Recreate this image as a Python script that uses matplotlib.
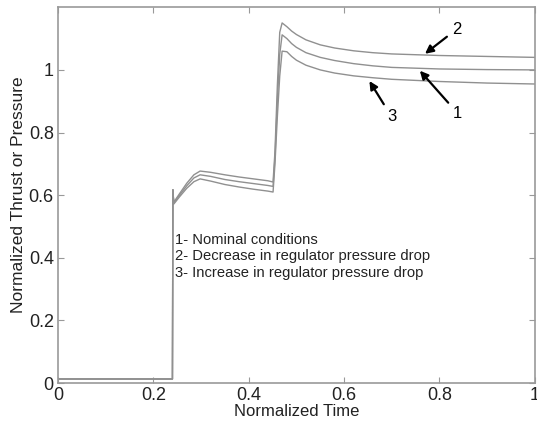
import matplotlib
matplotlib.use("Agg")
import matplotlib.pyplot as plt

plt.rcParams['font.family'] = ['Liberation Sans', 'DejaVu Sans']

# data
t = [0.0, 0.240, 0.241, 0.2415, 0.243, 0.255, 0.270, 0.285, 0.298, 0.32, 0.35,
     0.38, 0.41, 0.44, 0.451, 0.455, 0.460, 0.465, 0.470, 0.48, 0.49, 0.50, 0.52,
     0.55, 0.58, 0.62, 0.66, 0.70, 0.80, 0.90, 1.0]

y_nominal = [0.013, 0.013, 0.617, 0.60, 0.575, 0.60, 0.630, 0.655, 0.665, 0.660, 0.650,
             0.643, 0.637, 0.631, 0.628, 0.72, 0.90, 1.05, 1.112, 1.100, 1.084, 1.072, 1.055,
             1.040, 1.030, 1.020, 1.013, 1.008, 1.003, 1.001, 1.0]
y_decrease = [0.013, 0.013, 0.617, 0.60, 0.578, 0.605, 0.638, 0.665, 0.677, 0.673, 0.665,
              0.658, 0.652, 0.646, 0.642, 0.74, 0.95, 1.12, 1.150, 1.138, 1.124, 1.113, 1.096,
              1.080, 1.070, 1.061, 1.055, 1.051, 1.046, 1.043, 1.040]
y_increase = [0.013, 0.013, 0.617, 0.60, 0.572, 0.595, 0.622, 0.643, 0.652, 0.645, 0.634,
              0.626, 0.619, 0.613, 0.610, 0.70, 0.85, 0.98, 1.060, 1.058, 1.043, 1.031, 1.015,
              1.000, 0.990, 0.981, 0.975, 0.970, 0.963, 0.958, 0.955]

legend_lines = ["1- Nominal conditions",
                "2- Decrease in regulator pressure drop",
                "3- Increase in regulator pressure drop"]

fig = plt.figure(figsize=(5.37, 4.28), dpi=100)
ax = fig.add_axes([0.108, 0.105, 0.888, 0.878])

for y in [y_nominal, y_decrease, y_increase]:
    ax.plot(t, y, color='#909090', linewidth=1.0)

ax.set_xlim(0, 1)
ax.set_ylim(0, 1.2)
ax.set_xticks([0, 0.2, 0.4, 0.6, 0.8, 1])
ax.set_xticklabels(['0', '0.2', '0.4', '0.6', '0.8', '1'])
ax.set_yticks([0, 0.2, 0.4, 0.6, 0.8, 1])
ax.set_yticklabels(['0', '0.2', '0.4', '0.6', '0.8', '1'])
ax.tick_params(direction='in', top=True, right=True, length=4, color='#999999',
               labelsize=13, labelcolor='#222222', pad=3)
for s in ax.spines.values():
    s.set_color('#999999')
    s.set_linewidth(1.2)

ax.set_xlabel("Normalized Time", fontsize=12, color='#222222', labelpad=0)
ax.set_ylabel("Normalized Thrust or Pressure", fontsize=12.5, color='#222222', labelpad=2)

# teks keterangan
for i, s in enumerate(legend_lines):
    ax.text(0.245, 0.457 - i * 0.052, s, fontsize=10.6, color='#222222', va='center')

# panah
arr = dict(arrowstyle='-|>', color='black', lw=1.6, mutation_scale=12)
ax.annotate("2", xy=(0.765, 1.046), xytext=(0.826, 1.13), fontsize=12,
            ha='left', va='center', arrowprops=arr)
ax.annotate("1", xy=(0.755, 1.004), xytext=(0.828, 0.862), fontsize=12,
            ha='left', va='center', arrowprops=arr)
ax.annotate("3", xy=(0.650, 0.972), xytext=(0.69, 0.85), fontsize=12,
            ha='left', va='center', arrowprops=arr)

fig.savefig("out.png", dpi=100)
